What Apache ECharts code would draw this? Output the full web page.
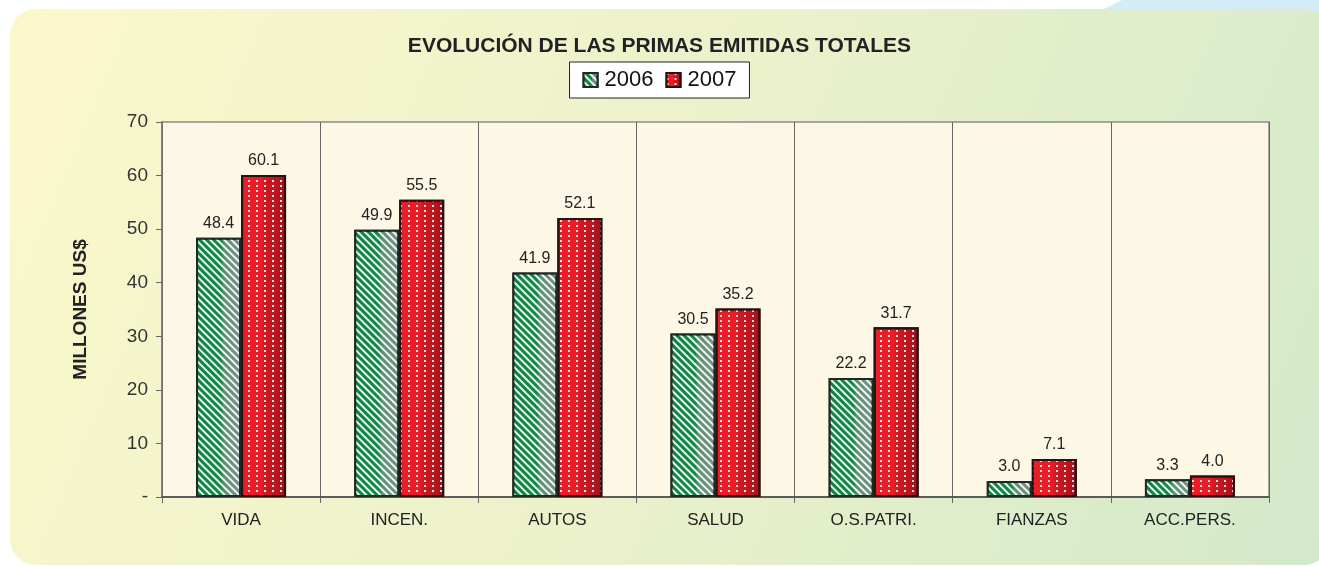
<!DOCTYPE html>
<html>
<head>
<meta charset="utf-8">
<script src="https://cdn.jsdelivr.net/npm/echarts@6/dist/echarts.min.js"></script>
<style>
  html, body { margin: 0; padding: 0; background: #fff; }
  #chart { width: 1319px; height: 567px; }
</style>
</head>
<body>
<div id="chart"></div>
<script>
// data
var categories = ['VIDA', 'INCEN.', 'AUTOS', 'SALUD', 'O.S.PATRI.', 'FIANZAS', 'ACC.PERS.'];
var values2006 = [48.4, 49.9, 41.9, 30.5, 22.2, 3.0, 3.3];
var values2007 = [60.1, 55.5, 52.1, 35.2, 31.7, 7.1, 4.0];
var seriesNames = ['2006', '2007'];
var yMin = 0, yMax = 70, yStep = 10;

var font = '"Liberation Sans", Arial, sans-serif';

var myChart = echarts.init(document.getElementById('chart'));

// bar fills: shaded gradient + pattern decal on top
var greenFill = new echarts.graphic.LinearGradient(0, 0, 1, 0, [
    { offset: 0, color: '#0b8642' },
    { offset: 0.55, color: '#0e8a45' },
    { offset: 0.62, color: '#5d9071' },
    { offset: 1, color: '#78928a' }
]);
var redFill = new echarts.graphic.LinearGradient(0, 0, 1, 0, [
    { offset: 0, color: '#ea1e28' },
    { offset: 0.45, color: '#e81d27' },
    { offset: 0.52, color: '#cf1a25' },
    { offset: 0.8, color: '#b8161f' },
    { offset: 1, color: '#98111a' }
]);

var labelStyle = {
    show: true,
    position: 'top',
    distance: 6,
    fontFamily: font,
    fontSize: 16,
    color: '#222',
    formatter: function (p) { return p.value.toFixed(1); }
};

var option = {
    backgroundColor: '#fff',
    graphic: [
        {
            type: 'polygon',
            z: -20,
            silent: true,
            shape: { points: [[1122, 0], [1319, 0], [1319, 30], [1104, 9]] },
            style: { fill: '#d4ecf8' }
        },
        {
            type: 'rect',
            z: -10,
            silent: true,
            shape: { x: 10, y: 9, width: 1320, height: 556, r: 26 },
            style: {
                fill: new echarts.graphic.LinearGradient(0, 0, 1, 1, [
                    { offset: 0, color: '#fbf8cb' },
                    { offset: 0.5, color: '#ebf1cb' },
                    { offset: 1, color: '#d3e9ca' }
                ])
            }
        }
    ],
    title: {
        text: 'EVOLUCIÓN DE LAS PRIMAS EMITIDAS TOTALES',
        left: 'center',
        top: 31,
        textStyle: { fontFamily: font, fontSize: 21, fontWeight: 'bold', color: '#222' }
    },
    legend: {
        data: seriesNames,
        left: 'center',
        top: 62,
        backgroundColor: '#fff',
        borderColor: '#222',
        borderWidth: 1,
        padding: [7, 13],
        itemWidth: 14,
        itemHeight: 14,
        itemGap: 12,
        icon: 'rect',
        textStyle: { fontFamily: font, fontSize: 22, color: '#111', padding: [0, 0, 0, 2] }
    },
    grid: {
        left: 162,
        right: 50,
        top: 122,
        bottom: 70,
        show: true,
        backgroundColor: '#fdf8e6',
        borderColor: '#8c8c8c',
        borderWidth: 1.5
    },
    xAxis: {
        type: 'category',
        data: categories,
        axisLine: { lineStyle: { color: '#444', width: 1.5 } },
        axisTick: { show: true, interval: 0, length: 6, lineStyle: { color: '#666' } },
        axisLabel: { interval: 0, margin: 15, fontFamily: font, fontSize: 17, color: '#222' },
        splitLine: { show: true, interval: 0, lineStyle: { color: '#666', width: 1 } }
    },
    yAxis: {
        type: 'value',
        min: yMin,
        max: yMax,
        interval: yStep,
        name: 'MILLONES US$',
        nameLocation: 'middle',
        nameRotate: 90,
        nameGap: 72,
        nameTextStyle: { fontFamily: font, fontSize: 19, fontWeight: 'bold', color: '#222' },
        axisLine: { show: true, lineStyle: { color: '#777', width: 1.5 } },
        axisTick: { show: true, length: 6, lineStyle: { color: '#666' } },
        axisLabel: {
            margin: 14,
            fontFamily: font,
            fontSize: 19,
            color: '#333',
            formatter: function (v) { return v === 0 ? '-' : v; }
        },
        splitLine: { show: false }
    },
    series: [
        {
            name: seriesNames[0],
            type: 'bar',
            data: values2006,
            barWidth: 45,
            barGap: '0%',
            itemStyle: {
                color: greenFill,
                borderColor: '#1e2a22',
                borderWidth: 2,
                decal: {
                    symbol: 'rect',
                    symbolSize: 1,
                    color: 'rgba(255,255,255,0.92)',
                    dashArrayX: [1, 0],
                    dashArrayY: [2, 3],
                    rotation: Math.PI / 4
                }
            },
            label: labelStyle
        },
        {
            name: seriesNames[1],
            type: 'bar',
            data: values2007,
            barWidth: 45,
            itemStyle: {
                color: redFill,
                borderColor: '#2a1010',
                borderWidth: 2,
                decal: {
                    symbol: 'rect',
                    symbolSize: 1,
                    color: 'rgba(255,255,255,0.85)',
                    dashArrayX: [2, 6],
                    dashArrayY: [2, 3]
                }
            },
            label: labelStyle
        }
    ]
};

myChart.setOption(option);
</script>
</body>
</html>
